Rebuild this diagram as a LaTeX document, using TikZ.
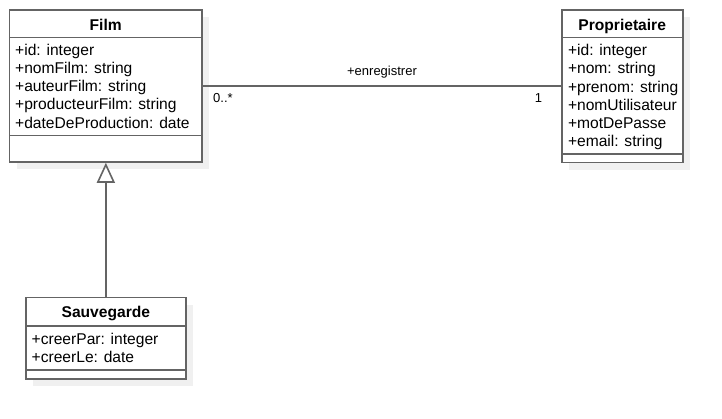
\documentclass[tikz,border=0pt]{standalone}
\usepackage{fontspec}
\setmainfont{Liberation Sans}
\usetikzlibrary{arrows.meta}
\definecolor{linegray}{RGB}{100,100,100}
\definecolor{shadowgray}{RGB}{240,240,240}
\tikzset{
  classbox/.style={draw=linegray, line width=1.6pt, fill=white, rectangle, inner sep=0pt},
  shadowbox/.style={fill=shadowgray, draw=none},
  sepline/.style={draw=linegray, line width=1.6pt},
  attr/.style={anchor=base west, inner sep=0pt, font=\fontsize{15.6}{18}\selectfont},
  title/.style={anchor=base, inner sep=0pt, font=\fontsize{15.6}{18}\selectfont\bfseries},
  edgelabel/.style={inner sep=0pt, font=\fontsize{13}{15}\selectfont},
  assoc/.style={draw=linegray, line width=1.6pt},
  inherit/.style={draw=linegray, line width=1.6pt, -{Triangle[open, width=18pt, length=20pt, line width=1.6pt]}}
}
\begin{document}
\begin{tikzpicture}[x=1pt,y=-1pt]
\useasboundingbox (0,0) rectangle (722,419);
% shadows
\fill[shadowgray] (16.5,17) rectangle (209,169);
\fill[shadowgray] (568.7,17) rectangle (689.7,169.7);
\fill[shadowgray] (33,304.7) rectangle (192.7,385.7);
% Film
\node[classbox, minimum width=192.5pt, minimum height=152pt] (film) at (105.75,86) {};
\draw[sepline] (9.5,37.7) -- (202,37.7);
\draw[sepline] (9.5,135.7) -- (202,135.7);
\node[title] (filmt) at (105.75,30.5) {Film};
\node[attr] (f1) at (15,55.3) {+id: integer};
\node[attr] (f2) at (15,73.5) {+nomFilm: string};
\node[attr] (f3) at (15,91.7) {+auteurFilm: string};
\node[attr] (f4) at (15,109.9) {+producteurFilm: string};
\node[attr] (f5) at (15,128.1) {+dateDeProduction: date};
% Proprietaire
\node[classbox, minimum width=121pt, minimum height=152.7pt] (prop) at (622.2,86.35) {};
\draw[sepline] (561.7,37.7) -- (682.7,37.7);
\draw[sepline] (561.7,154) -- (682.7,154);
\node[title] (propt) at (622.2,30.3) {Proprietaire};
\node[attr] (p1) at (567.8,55.8) {+id: integer};
\node[attr] (p2) at (567.8,74) {+nom: string};
\node[attr] (p3) at (567.8,92.2) {+prenom: string};
\node[attr] (p4) at (567.8,110.4) {+nomUtilisateur};
\node[attr] (p5) at (567.8,128.6) {+motDePasse};
\node[attr] (p6) at (567.8,146.8) {+email: string};
% Sauvegarde
\node[classbox, minimum width=159.7pt, minimum height=81pt] (sauv) at (105.85,338.2) {};
\draw[sepline] (26,325.7) -- (185.7,325.7);
\draw[sepline] (26,370) -- (185.7,370);
\node[title] (sauvt) at (105.85,317.5) {Sauvegarde};
\node[attr] (s1) at (31.5,344.3) {+creerPar: integer};
\node[attr] (s2) at (31.5,362.4) {+creerLe: date};
% association
\draw[assoc] (film.east) -- (prop.west |- film.east);
\node[edgelabel] (lab) at (382,71.7) {+enregistrer};
\node[edgelabel, anchor=west] (m1) at (213,97.7) {0..*};
\node[edgelabel] (m2) at (538.5,97.7) {1};
% inheritance
\draw[inherit] (sauv.north) -- (sauv.north |- film.south);
\end{tikzpicture}
\end{document}
